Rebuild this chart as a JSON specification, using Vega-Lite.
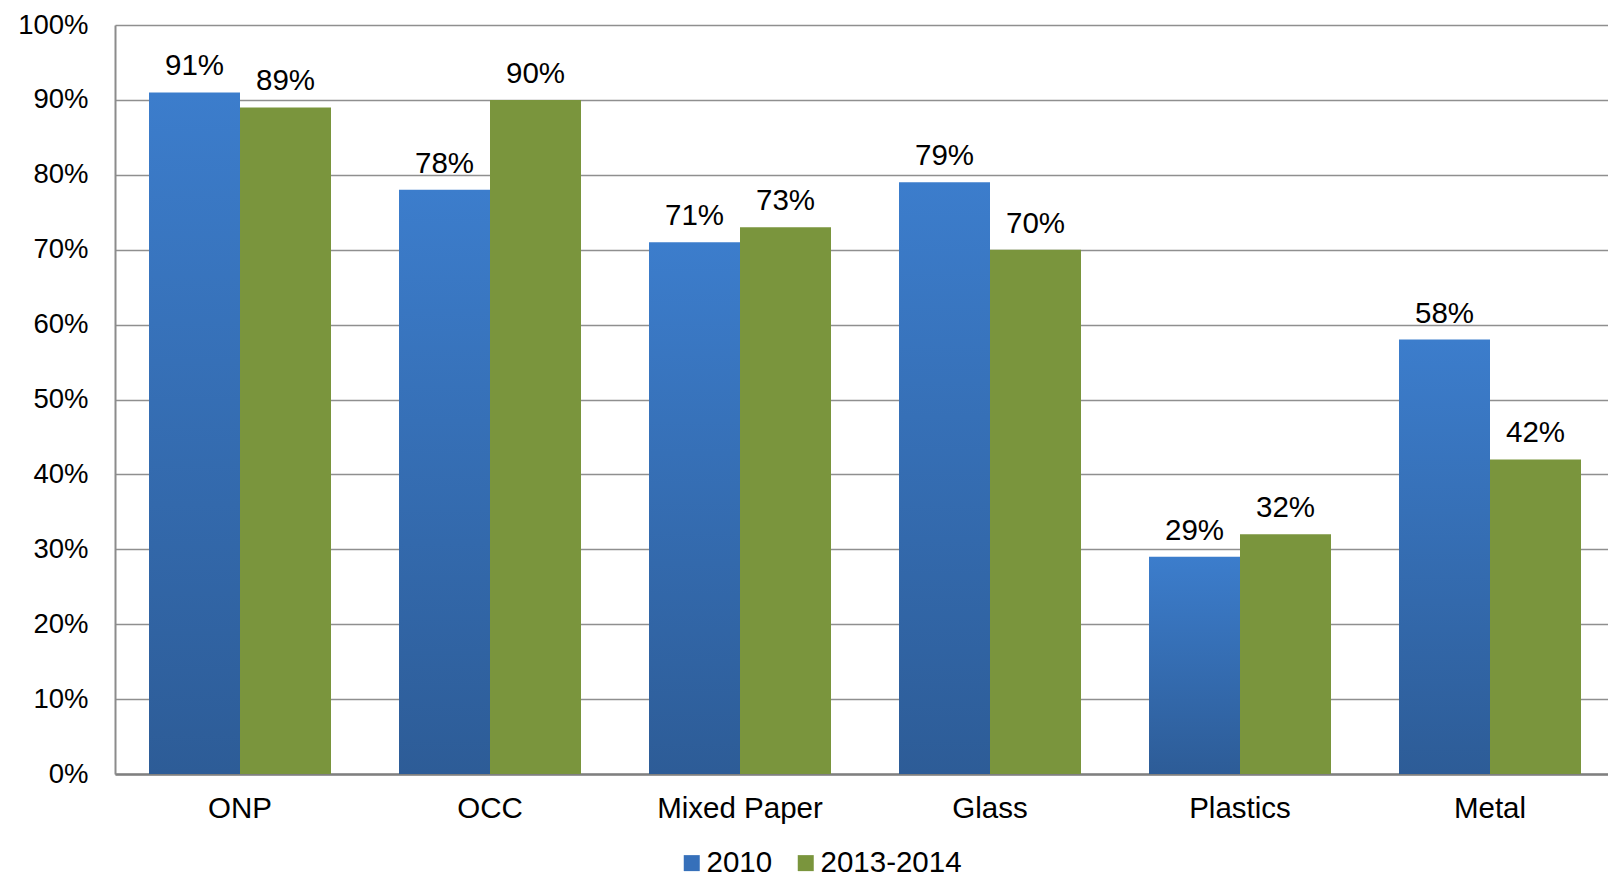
{
  "$schema": "https://vega.github.io/schema/vega-lite/v6.json",
  "width": 1493,
  "height": 749,
  "autosize": {"type": "none"},
  "padding": {"left": 115, "top": 25, "right": 0, "bottom": 104},
  "background": "white",
  "config": {
    "font": "Liberation Sans",
    "view": {"stroke": null}
  },
  "data": {
    "values": [
      {"material": "ONP", "year": "2010", "share": 0.91},
      {"material": "ONP", "year": "2013-2014", "share": 0.89},
      {"material": "OCC", "year": "2010", "share": 0.78},
      {"material": "OCC", "year": "2013-2014", "share": 0.90},
      {"material": "Mixed Paper", "year": "2010", "share": 0.71},
      {"material": "Mixed Paper", "year": "2013-2014", "share": 0.73},
      {"material": "Glass", "year": "2010", "share": 0.79},
      {"material": "Glass", "year": "2013-2014", "share": 0.70},
      {"material": "Plastics", "year": "2010", "share": 0.29},
      {"material": "Plastics", "year": "2013-2014", "share": 0.32},
      {"material": "Metal", "year": "2010", "share": 0.58},
      {"material": "Metal", "year": "2013-2014", "share": 0.42}
    ]
  },
  "encoding": {
    "x": {
      "field": "material",
      "type": "nominal",
      "sort": null,
      "scale": {"range": [0, 1500], "paddingInner": 0.272, "paddingOuter": 0.136},
      "axis": {
        "title": null,
        "labelAngle": 0,
        "labelFontSize": 29.5,
        "labelColor": "#000000",
        "labelPadding": 20,
        "ticks": false,
        "domainColor": "#808080",
        "domainWidth": 2.5,
        "grid": false
      }
    },
    "xOffset": {"field": "year", "type": "nominal", "sort": ["2010", "2013-2014"]},
    "y": {
      "field": "share",
      "type": "quantitative",
      "scale": {"domain": [0, 1], "nice": false},
      "axis": {
        "title": null,
        "format": ".0%",
        "values": [0, 0.1, 0.2, 0.3, 0.4, 0.5, 0.6, 0.7, 0.8, 0.9, 1],
        "labelFontSize": 27.5,
        "labelColor": "#000000",
        "labelPadding": 27,
        "ticks": false,
        "domainColor": "#8c8c8c",
        "domainWidth": 2,
        "gridColor": "#8f8f8f",
        "gridWidth": 1.5
      }
    }
  },
  "layer": [
    {
      "mark": {"type": "bar"},
      "encoding": {
        "fill": {
          "condition": {
            "test": "datum.year === '2010'",
            "value": {
              "gradient": "linear",
              "x1": 0, "y1": 0, "x2": 0, "y2": 1,
              "stops": [
                {"offset": 0, "color": "#3C7DCC"},
                {"offset": 1, "color": "#2D5C97"}
              ]
            }
          },
          "field": "year",
          "type": "nominal",
          "sort": ["2010", "2013-2014"],
          "scale": {"domain": ["2010", "2013-2014"], "range": ["#3670BA", "#7A953D"]},
          "legend": {
            "title": null,
            "orient": "none",
            "direction": "horizontal",
            "legendX": 562,
            "legendY": 823,
            "padding": 0,
            "symbolType": "square",
            "symbolSize": 256,
            "symbolStrokeWidth": 0,
            "labelFontSize": 29.5,
            "labelColor": "#000000",
            "labelOffset": 0,
            "columnPadding": 18,
            "encode": {
              "symbols": {
                "update": {
                  "fill": {
                    "signal": "datum.value === '2010' ? {gradient: 'linear', x1: 0, y1: 0, x2: 0, y2: 1, stops: [{offset: 0, color: '#3C7DCC'}, {offset: 1, color: '#2D5C97'}]} : '#7A953D'"
                  },
                  "opacity": {"value": 1}
                }
              }
            }
          }
        }
      }
    },
    {
      "mark": {
        "type": "text",
        "baseline": "alphabetic",
        "align": "center",
        "dy": -17,
        "fontSize": 29.5,
        "color": "#000000"
      },
      "encoding": {
        "text": {"field": "share", "type": "quantitative", "format": ".0%"}
      }
    }
  ]
}
